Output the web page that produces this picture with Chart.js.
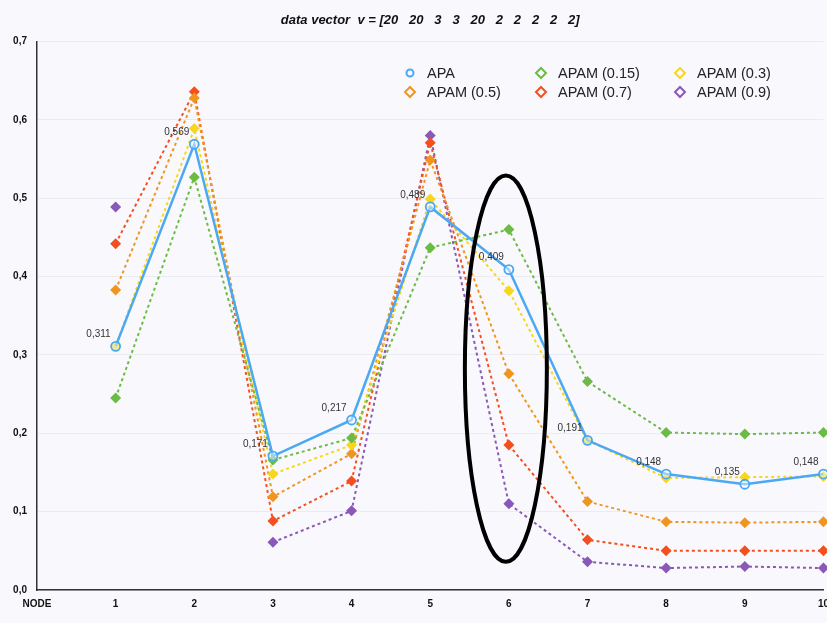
<!DOCTYPE html>
<html>
<head>
<meta charset="utf-8">
<script src="https://cdn.jsdelivr.net/npm/chart.js@4.4.0/dist/chart.umd.min.js"></script>
<style>
  html, body { margin: 0; padding: 0; background: #f9f9fd; overflow: hidden; }
  #wrap { width: 837px; height: 623px; }
</style>
</head>
<body>
<div id="wrap"><canvas id="myChart" width="837" height="623"></canvas></div>
<script>
const nodes = ['NODE', '1', '2', '3', '4', '5', '6', '7', '8', '9', '10'];
const titleText = 'data vector  v = [20   20   3   3   20   2   2   2   2   2]';

// values for node 1..10
const apa     = [0.311, 0.569, 0.171, 0.217, 0.489, 0.409, 0.191, 0.148, 0.135, 0.148];
const apam015 = [0.245, 0.527, 0.166, 0.194, 0.437, 0.460, 0.266, 0.201, 0.199, 0.201];
const apam03  = [0.311, 0.589, 0.148, 0.185, 0.499, 0.382, 0.191, 0.143, 0.144, 0.145];
const apam05  = [0.383, 0.628, 0.119, 0.174, 0.549, 0.276, 0.113, 0.087, 0.086, 0.087];
const apam07  = [0.442, 0.636, 0.088, 0.139, 0.571, 0.185, 0.064, 0.050, 0.050, 0.050];
const apam09  = [0.489, null,  0.061, 0.101, 0.580, 0.110, 0.036, 0.028, 0.030, 0.028];

const yTicks = [0, 0.1, 0.2, 0.3, 0.4, 0.5, 0.6, 0.7];

const blue = '#4ba8f2';
const green = '#6cbb44';
const yellow = '#f6d71e';
const orange = '#f0951f';
const red = '#f4501f';
const purple = '#8958b8';

function series(label, values, color) {
    return {
        label: label,
        data: [null].concat(values),
        borderColor: color,
        backgroundColor: color,
        borderWidth: 2,
        borderDash: [3, 3],
        pointStyle: 'rectRot',
        pointRadius: 5.5,
        pointBackgroundColor: color,
        pointBorderColor: color,
        pointBorderWidth: 0,
        spanGaps: false,
        tension: 0
    };
}

const bgPlugin = {
    id: 'bg',
    beforeDraw(chart) {
        const ctx = chart.ctx;
        ctx.save();
        ctx.fillStyle = '#f9f9fd';
        ctx.fillRect(0, 0, chart.width, chart.height);
        ctx.restore();
    }
};

const extrasPlugin = {
    id: 'extras',
    afterDatasetsDraw(chart) {
        const ctx = chart.ctx;
        const x = chart.scales.x, y = chart.scales.y;

        // value labels for APA
        ctx.save();
        ctx.font = '10px "Liberation Sans", Arial, sans-serif';
        ctx.fillStyle = '#333';
        ctx.textAlign = 'right';
        ctx.textBaseline = 'middle';
        chart.getDatasetMeta(0).data.forEach((pt, i) => {
            const v = chart.data.datasets[0].data[i];
            if (v == null) return;
            ctx.fillText(v.toFixed(3).replace('.', ','), pt.x - 5, pt.y - 12);
        });
        ctx.restore();

        // highlight ellipse around node 6
        ctx.save();
        const cx = x.getPixelForValue(6) - 3;
        const top = y.getPixelForValue(0.529);
        const bot = y.getPixelForValue(0.036);
        ctx.beginPath();
        ctx.ellipse(cx, (top + bot) / 2, 41, (bot - top) / 2, 0, 0, Math.PI * 2);
        ctx.lineWidth = 4;
        ctx.strokeStyle = '#000';
        ctx.stroke();
        ctx.restore();

        // legend
        ctx.save();
        ctx.font = '14.5px "Liberation Sans", Arial, sans-serif';
        ctx.textAlign = 'left';
        ctx.textBaseline = 'middle';
        const cols = [410, 541, 680];
        const rows = [73, 92];
        chart.data.datasets.forEach((ds, i) => {
            const mx = cols[i % 3], my = rows[Math.floor(i / 3)];
            ctx.strokeStyle = ds.borderColor;
            ctx.lineWidth = 2;
            ctx.beginPath();
            if (ds.pointStyle === 'circle') {
                ctx.arc(mx, my, 3.5, 0, Math.PI * 2);
            } else {
                ctx.moveTo(mx, my - 5);
                ctx.lineTo(mx + 5, my);
                ctx.lineTo(mx, my + 5);
                ctx.lineTo(mx - 5, my);
                ctx.closePath();
            }
            ctx.stroke();
            ctx.fillStyle = '#222';
            ctx.fillText(ds.label, mx + 17, my + 1);
        });
        ctx.restore();
    }
};

const myChart = document.getElementById('myChart');

new Chart(myChart, {
    type: 'line',
    data: {
        labels: nodes,
        datasets: [
            {
                label: 'APA',
                data: [null].concat(apa),
                borderColor: blue,
                backgroundColor: blue,
                borderWidth: 2.5,
                pointStyle: 'circle',
                pointRadius: 4.5,
                pointBackgroundColor: 'rgba(255,255,255,0.45)',
                pointBorderColor: blue,
                pointBorderWidth: 1.8,
                tension: 0
            },
            series('APAM (0.15)', apam015, green),
            series('APAM (0.3)', apam03, yellow),
            series('APAM (0.5)', apam05, orange),
            series('APAM (0.7)', apam07, red),
            series('APAM (0.9)', apam09, purple)
        ]
    },
    options: {
        responsive: false,
        animation: false,
        layout: { padding: 0 },
        plugins: {
            legend: { display: false },
            tooltip: { enabled: false },
            title: {
                display: true,
                fullSize: false,
                text: titleText,
                color: '#111',
                font: { family: '"Liberation Sans", Arial, sans-serif', size: 13, weight: 'bold', style: 'italic' },
                padding: { top: 13, bottom: 13 }
            }
        },
        scales: {
            x: {
                type: 'category',
                offset: false,
                grid: { color: 'transparent', drawTicks: false },
                border: { display: true, color: '#333', width: 1.5 },
                ticks: {
                    color: '#111',
                    padding: 8,
                    maxRotation: 0,
                    autoSkip: false,
                    font: { family: '"Liberation Sans", Arial, sans-serif', size: 10, weight: 'bold' }
                },
                afterFit(scale) { scale.height = 33; }
            },
            y: {
                min: 0,
                max: 0.7,
                afterBuildTicks(scale) { scale.ticks = yTicks.map(v => ({ value: v })); },
                grid: { color: '#ebebf2', drawTicks: false },
                border: { display: true, color: '#333', width: 1.5 },
                ticks: {
                    color: '#111',
                    padding: 10,
                    font: { family: '"Liberation Sans", Arial, sans-serif', size: 10, weight: 'bold' },
                    callback: v => v.toFixed(1).replace('.', ',')
                },
                afterFit(scale) { scale.width = 37; }
            }
        }
    },
    plugins: [bgPlugin, extrasPlugin]
});
</script>
</body>
</html>
